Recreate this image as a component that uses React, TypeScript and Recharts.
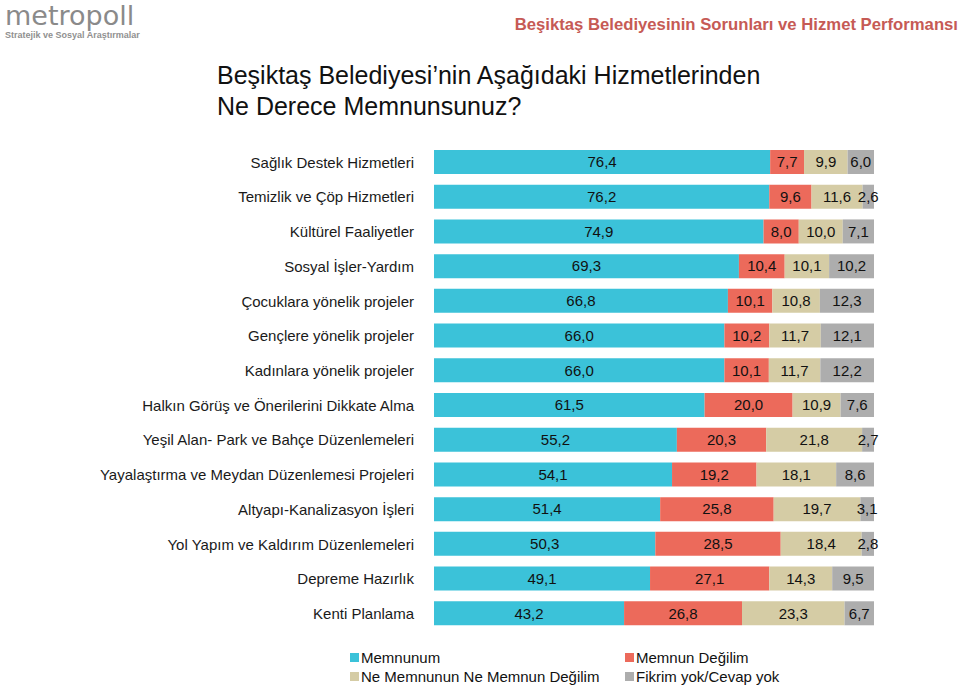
import React from 'react';
import { BarChart, Bar, XAxis, YAxis, LabelList } from 'recharts';

const categories = [
  'Sağlık Destek Hizmetleri',
  'Temizlik ve Çöp Hizmetleri',
  'Kültürel Faaliyetler',
  'Sosyal İşler-Yardım',
  'Çocuklara yönelik projeler',
  'Gençlere yönelik projeler',
  'Kadınlara yönelik projeler',
  'Halkın Görüş ve Önerilerini Dikkate Alma',
  'Yeşil Alan- Park ve Bahçe Düzenlemeleri',
  'Yayalaştırma ve Meydan Düzenlemesi Projeleri',
  'Altyapı-Kanalizasyon İşleri',
  'Yol Yapım ve Kaldırım Düzenlemeleri',
  'Depreme Hazırlık',
  'Kenti Planlama',
];
const memnunum = [76.4, 76.2, 74.9, 69.3, 66.8, 66.0, 66.0, 61.5, 55.2, 54.1, 51.4, 50.3, 49.1, 43.2];
const memnunDegilim = [7.7, 9.6, 8.0, 10.4, 10.1, 10.2, 10.1, 20.0, 20.3, 19.2, 25.8, 28.5, 27.1, 26.8];
const neNe = [9.9, 11.6, 10.0, 10.1, 10.8, 11.7, 11.7, 10.9, 21.8, 18.1, 19.7, 18.4, 14.3, 23.3];
const fikrimYok = [6.0, 2.6, 7.1, 10.2, 12.3, 12.1, 12.2, 7.6, 2.7, 8.6, 3.1, 2.8, 9.5, 6.7];

const series = [
  { key: 'memnunum', name: 'Memnunum', color: '#3BC2D9' },
  { key: 'degil', name: 'Memnun Değilim', color: '#EC6A5B' },
  { key: 'nene', name: 'Ne Memnunun Ne Memnun Değilim', color: '#D5CCA5' },
  { key: 'yok', name: 'Fikrim yok/Cevap yok', color: '#ADADAD' },
];

const data = categories.map((c, i) => ({
  cat: c,
  memnunum: memnunum[i],
  degil: memnunDegilim[i],
  nene: neNe[i],
  yok: fikrimYok[i],
}));

const font = 'Arial, "Liberation Sans", sans-serif';
const fmt = (v: any) => (typeof v === 'number' ? v.toFixed(1).replace('.', ',') : v);

function LegendBox() {
  const cell = (s: any) => (
    <div key={s.key} style={{ display: 'flex', alignItems: 'center', height: 19 }}>
      <span style={{ width: 9, height: 9, background: s.color, marginRight: 2, display: 'inline-block' }} />
      <span>{s.name}</span>
    </div>
  );
  return (
    <div style={{ display: 'grid', gridTemplateColumns: '275px 200px', fontFamily: font, fontSize: 15, color: '#111' }}>
      {series.map(cell)}
    </div>
  );
}

export default function App() {
  return (
    <div style={{ position: 'relative', width: 960, height: 688, background: '#fff', fontFamily: font }}>
      <style>{'body{margin:0}'}</style>
      <div style={{ position: 'absolute', left: 5, top: 0, fontSize: 27, lineHeight: '31px', color: '#8a8a8a', fontFamily: '"DejaVu Sans", sans-serif' }}>
        metropoll
      </div>
      <div style={{ position: 'absolute', left: 5, top: 30, fontSize: 9, lineHeight: '10px', fontWeight: 'bold', color: '#909090' }}>
        Stratejik ve Sosyal Araştırmalar
      </div>
      <div style={{ position: 'absolute', right: 2, top: 15, color: '#C65A55', fontWeight: 'bold', fontSize: 16.7 }}>
        Beşiktaş Belediyesinin Sorunları ve Hizmet Performansı
      </div>
      <div style={{ position: 'absolute', left: 217, top: 60, color: '#111', fontSize: 25, lineHeight: '31px' }}>
        Beşiktaş Belediyesi’nin Aşağıdaki Hizmetlerinden
        <br />
        Ne Derece Memnunsunuz?
      </div>
      <div style={{ position: 'absolute', left: 0, top: 0 }}>
        <BarChart
          width={960}
          height={688}
          data={data}
          layout="vertical"
          barSize={24}
          margin={{ top: 145, right: 86, left: 0, bottom: 57 }}
        >
          <XAxis type="number" domain={[0, 100]} hide allowDataOverflow />
          <YAxis
            type="category"
            dataKey="cat"
            width={434}
            tickLine={false}
            axisLine={false}
            tickMargin={14}
            interval={0}
            tick={{ fill: '#1a1a1a', fontSize: 15, fontFamily: font }}
          />
          {series.map((s) => (
            <Bar key={s.key} dataKey={s.key} name={s.name} stackId="a" fill={s.color} isAnimationActive={false}>
              <LabelList
                dataKey={s.key}
                position="center"
                formatter={fmt}
                style={{ fill: '#111', fontSize: 15, fontFamily: font }}
              />
            </Bar>
          ))}
        </BarChart>
      </div>
      <div style={{ position: 'absolute', left: 350, top: 648 }}>
        <LegendBox />
      </div>
    </div>
  );
}
